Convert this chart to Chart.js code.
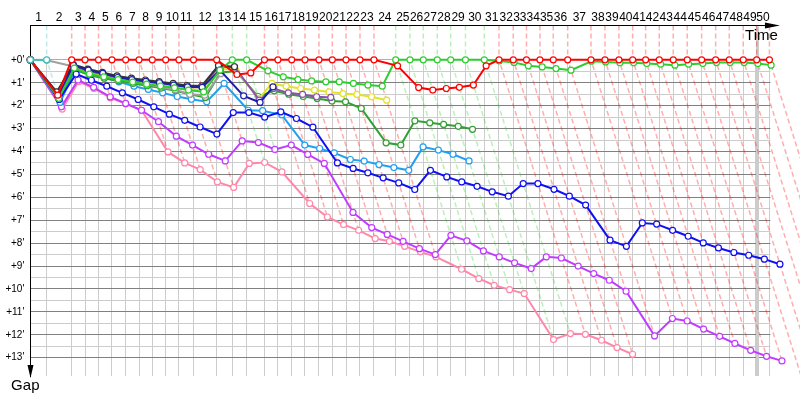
<!DOCTYPE html>
<html>
<head>
<meta charset="utf-8">
<script src="https://cdn.jsdelivr.net/npm/chart.js@4.4.1/dist/chart.umd.min.js"></script>
<style>
html,body{margin:0;padding:0;background:#ffffff;}
canvas{display:block;}
</style>
</head>
<body>
<canvas id="chart" width="800" height="400"></canvas>
<script>
// Lap numbers along the top (time) axis
const laps = [1,2,3,4,5,6,7,8,9,10,11,12,13,14,15,16,17,18,19,20,21,22,23,24,25,
              26,27,28,29,30,31,32,33,34,35,36,37,38,39,40,41,42,43,44,45,46,47,48,49,50];
// Leader's elapsed time (minutes) at the end of each lap; index 0 = start
const lapTimes = [0, 2.27, 5.74, 7.59, 9.46, 11.33, 13.23, 15.08, 16.92, 18.78, 20.62,
  22.64, 25.85, 28.02, 30.01, 32.48, 34.35, 36.26, 38.10, 40.04, 41.89,
  43.79, 45.73, 47.67, 50.68, 52.66, 54.51, 56.45, 58.31, 60.36, 62.97,
  65.01, 66.99, 68.82, 70.69, 72.54, 74.54, 77.77, 79.71, 81.65, 83.55,
  85.35, 87.24, 89.18, 91.12, 93.12, 95.06, 96.95, 98.89, 100.75, 102.52];
// Gap tick labels (minutes)
const gapTicks = [0,1,2,3,4,5,6,7,8,9,10,11,12,13];

// Gap to leader (minutes) at the end of each lap; index 0 = start
const cyan = [0, 0];
const red = [0, 1.54, 0,0,0,0,0,0,0,0,0,0,0, 0.64, 0.57, 0,0,0,0,0,0,0,0,0,
  0.26, 1.21, 1.32, 1.25, 1.2, 1.1, 0.26, 0,0,0,0,0,0,0,0,0,0,0,0,0,0,0,0,0,0,0,0];
const green = [0, 1.68, 0.36, 0.62, 0.74, 0.86, 0.97, 1.06, 1.14, 1.22, 1.32, 1.4,
  0.45, 0, 0, 0.48, 0.74, 0.86, 0.92, 0.96, 0.96, 1.03, 1.1, 1.15, 0,0,0,0,0,0,0,
  0.05, 0.11, 0.26, 0.31, 0.38, 0.45, 0.06, 0.09, 0.13, 0.13, 0.16, 0.19, 0.23, 0.19,
  0.16, 0.12, 0.12, 0.12, 0.16, 0.23];
const blue = [0, 1.73, 0.62, 0.89, 1.15, 1.44, 1.73, 2.05, 2.37, 2.64, 2.93, 3.24,
  2.3, 2.3, 2.5, 2.27, 2.56, 2.94, 4.5, 4.74, 4.93, 5.15, 5.37, 5.66, 4.82, 5.11, 5.33,
  5.52, 5.76, 5.95, 5.4, 5.4, 5.65, 5.95, 6.34, 7.87, 8.14, 7.12, 7.17, 7.44, 7.7, 7.99,
  8.21, 8.41, 8.53, 8.7, 8.92];
const navy = [0, 1.6, 0.23, 0.45, 0.59, 0.77, 0.86, 0.94, 1.0, 1.1, 1.18, 1.2, 0.45, 1.57, 1.86, 1.18];
const black = [0, 1.4, 0.2, 0.4, 0.55, 0.7, 0.8, 0.88, 0.95, 1.03, 1.12, 1.14, 0.25, 0.3];
const purple = [0, 1.62, 0.26, 0.5, 0.62, 0.76, 0.86, 0.94, 1.02, 1.08, 1.15, 1.18,
  0.31, 0.31, 1.76, 1.25, 1.44, 1.51, 1.61, 1.64];
const yellow = [0, 1.65, 0.33, 0.58, 0.7, 0.82, 0.93, 1.02, 1.1, 1.18, 1.27, 1.33,
  0.4, 0.42, 1.69, 1.03, 1.15, 1.25, 1.32, 1.4, 1.47, 1.51, 1.61, 1.76];
const gray = [0, 0.02, 0.29, 0.5, 0.66, 0.83, 0.95, 1.07, 1.18, 1.3, 1.5, 1.54, 0.6];
const darkGreen = [0, 1.7, 0.4, 0.68, 0.8, 0.92, 1.03, 1.13, 1.23, 1.35, 1.5, 1.64,
  0.55, 0.5, 1.6, 1.35, 1.5, 1.6, 1.69, 1.8, 1.83, 2.12, 3.62, 3.72, 2.66, 2.75, 2.82, 2.9, 3.03];
const lightBlue = [0, 1.86, 0.45, 0.62, 0.77, 0.96, 1.15, 1.29, 1.44, 1.6, 1.72, 1.83,
  1.03, 2.2, 2.22, 2.4, 3.72, 3.87, 4.06, 4.35, 4.42, 4.57, 4.7, 4.82, 3.8, 3.94, 4.12, 4.41];
const magenta = [0, 2.05, 0.88, 1.2, 1.62, 1.9, 2.2, 2.7, 3.33, 3.72, 4.12, 4.41,
  3.54, 3.61, 3.91, 3.72, 4.13, 4.52, 6.66, 7.32, 7.62, 7.92, 8.24, 8.5, 7.66, 7.9, 8.34,
  8.6, 8.86, 9.11, 8.6, 8.65, 9.0, 9.33, 9.62, 10.1, 12.05, 11.29, 11.4, 11.75, 12.07,
  12.38, 12.68, 12.94, 13.14];
const pink = [0, 2.15, 0.95, 1.25, 1.66, 1.92, 2.2, 4.02, 4.5, 4.79, 5.33, 5.57,
  4.52, 4.48, 4.89, 6.27, 6.86, 7.19, 7.44, 7.8, 7.92, 8.14, 8.38, 8.6, 9.14, 9.55, 9.84,
  10.03, 10.2, 12.21, 11.95, 11.98, 12.24, 12.56, 12.85];

const riders = [
  {gaps: cyan,      color: '#3fbfbf', order: -1},
  {gaps: red,       color: '#ff0000', order: 0},
  {gaps: green,     color: '#2ecc2e', order: 1},
  {gaps: blue,      color: '#1010f0', order: 2},
  {gaps: navy,      color: '#1e1ea8', order: 3},
  {gaps: black,     color: '#333333', order: 4},
  {gaps: purple,    color: '#8a4fb0', order: 5},
  {gaps: yellow,    color: '#e2e22a', order: 6},
  {gaps: gray,      color: '#a0a0a0', order: 7},
  {gaps: darkGreen, color: '#33a033', order: 8},
  {gaps: lightBlue, color: '#22a0f0', order: 9},
  {gaps: magenta,   color: '#c03cff', order: 10},
  {gaps: pink,      color: '#ff88aa', order: 11}
];

const yMin = -1.5, yMax = 13.8;
const xMax = lapTimes[50] + 2.3;
const gridGaps = gapTicks.flatMap(v => v < gapTicks[gapTicks.length - 1] ? [v, v + 0.5] : [v]);

function alpha(hex, a) {
  const n = parseInt(hex.slice(1), 16);
  return `rgba(${(n >> 16) & 255},${(n >> 8) & 255},${n & 255},${a})`;
}
const toPoints = g => g.map((v, i) => ({x: lapTimes[i] + v, y: v}));
const lastLap = r => r.gaps.length - 1;
const stillRunning = riders.filter(r => {
  const n = lastLap(r);
  return n < 50 && lapTimes[n] + r.gaps[n] + (lapTimes[n] - lapTimes[n - 1]) > lapTimes[50];
});

const riderSets = riders.map(r => ({
  data: toPoints(r.gaps),
  borderColor: r.color,
  backgroundColor: '#ffffff',
  borderWidth: 2,
  pointRadius: 3,
  pointBorderWidth: 1.2,
  pointBackgroundColor: '#ffffff',
  pointBorderColor: r.color,
  tension: 0,
  clip: false,
  order: r.order
}));

const isoSets = laps.map(L => {
  const present = riders.filter(r => r.gaps.length > L);
  const leader = present.reduce((b, r) => r.gaps[L] < b.gaps[L] ? r : b);
  const beyond = stillRunning.some(r => lastLap(r) < L);
  const G = beyond ? 20 : Math.max(...present.map(r => r.gaps[L]));
  return {
    data: [{x: lapTimes[L], y: yMin}, {x: lapTimes[L], y: 0}, {x: lapTimes[L] + G, y: G}],
    borderColor: alpha(leader.color, 0.32),
    borderWidth: 1.5,
    borderDash: [5, 3],
    pointRadius: 0,
    tension: 0,
    clip: false,
    order: 100
  };
});

const gapChartDecor = {
  id: 'gapChartDecor',
  beforeDatasetsDraw(chart) {
    const {ctx, chartArea: a, scales} = chart;
    const y0 = scales.y.getPixelForValue(0);
    const xEnd = scales.x.getPixelForValue(lapTimes[50]);
    const x49 = scales.x.getPixelForValue(lapTimes[49]);
    ctx.save();
    ctx.fillStyle = '#ffffff';
    ctx.fillRect(a.left + 1, a.top + 1, a.right - a.left + 2, y0 - a.top - 1.5);
    ctx.fillRect(xEnd + 1, a.top - 1, a.right - xEnd + 2, a.bottom - a.top + 2);
    ctx.strokeStyle = '#cccccc';
    ctx.lineWidth = 3;
    ctx.beginPath();
    ctx.moveTo(Math.round(x49) + 0.5, a.top + 1);
    ctx.lineTo(Math.round(x49) + 0.5, a.bottom);
    ctx.stroke();
    ctx.restore();
  },
  afterDraw(chart) {
    const {ctx, chartArea: a, scales} = chart;
    const xEnd = scales.x.getPixelForValue(lapTimes[50]);
    const ty = Math.round(a.top - 0.5) + 0.5;
    const lx = Math.round(a.left - 0.5) + 0.5;
    ctx.save();
    ctx.strokeStyle = '#000000';
    ctx.fillStyle = '#000000';
    ctx.lineWidth = 1;
    ctx.beginPath();
    ctx.moveTo(xEnd - 2, ty);
    ctx.lineTo(xEnd + 8, ty);
    ctx.stroke();
    ctx.beginPath();
    ctx.moveTo(xEnd - 4.5, ty - 3);
    ctx.lineTo(xEnd + 10.5, ty);
    ctx.lineTo(xEnd - 4.5, ty + 3);
    ctx.closePath();
    ctx.fill();
    ctx.beginPath();
    ctx.moveTo(lx - 3, a.bottom - 11);
    ctx.lineTo(lx + 3, a.bottom - 11);
    ctx.lineTo(lx, a.bottom + 2);
    ctx.closePath();
    ctx.fill();
    ctx.font = '15px "Liberation Sans", Arial, sans-serif';
    ctx.textAlign = 'center';
    ctx.textBaseline = 'middle';
    ctx.fillText('Time', xEnd - 8, a.top + 10.5);
    ctx.fillText('Gap', a.left - 5, a.bottom + 9.5);
    ctx.restore();
  }
};

Chart.defaults.font.family = '"Liberation Sans", Arial, sans-serif';

new Chart(document.getElementById('chart'), {
  type: 'line',
  data: { datasets: [...riderSets, ...isoSets] },
  options: {
    responsive: false,
    animation: false,
    devicePixelRatio: 1,
    events: [],
    layout: { padding: { left: 0, right: 14, top: 0, bottom: 0 } },
    plugins: { legend: { display: false }, tooltip: { enabled: false } },
    scales: {
      x: {
        type: 'linear', position: 'bottom', min: 0, max: xMax,
        afterBuildTicks: s => { s.ticks = lapTimes.slice(1).map(v => ({value: v})); },
        afterFit: s => { s.height = 24; },
        ticks: { display: false },
        border: { display: false },
        grid: { color: '#cccccc', lineWidth: c => c.index === 48 ? 3 : 1, drawTicks: false }
      },
      xTop: {
        type: 'linear', position: 'top', min: 0, max: xMax,
        afterBuildTicks: s => { s.ticks = laps.map(l => ({value: (lapTimes[l - 1] + lapTimes[l]) / 2})); },
        afterFit: s => { s.height = 25.5; },
        ticks: { autoSkip: false, maxRotation: 0, minRotation: 0, padding: 1, color: '#000000',
                 font: { size: 12 }, callback: (v, i) => String(laps[i]) },
        border: { display: true, color: '#000000', width: 1 },
        grid: { display: false, drawTicks: false }
      },
      y: {
        type: 'linear', position: 'left', reverse: true, min: yMin, max: yMax,
        afterBuildTicks: s => { s.ticks = gridGaps.map(v => ({value: v})); },
        afterFit: s => { s.width = 30.3; },
        ticks: { autoSkip: false, padding: 6, color: '#000000', font: { size: 10 },
                 callback: v => Number.isInteger(v) ? '+' + v + "'" : '' },
        border: { display: true, color: '#000000', width: 1 },
        grid: { color: c => (c.tick && Number.isInteger(c.tick.value)) ? '#808080' : '#cccccc', drawTicks: false }
      }
    }
  },
  plugins: [gapChartDecor]
});
</script>
</body>
</html>
